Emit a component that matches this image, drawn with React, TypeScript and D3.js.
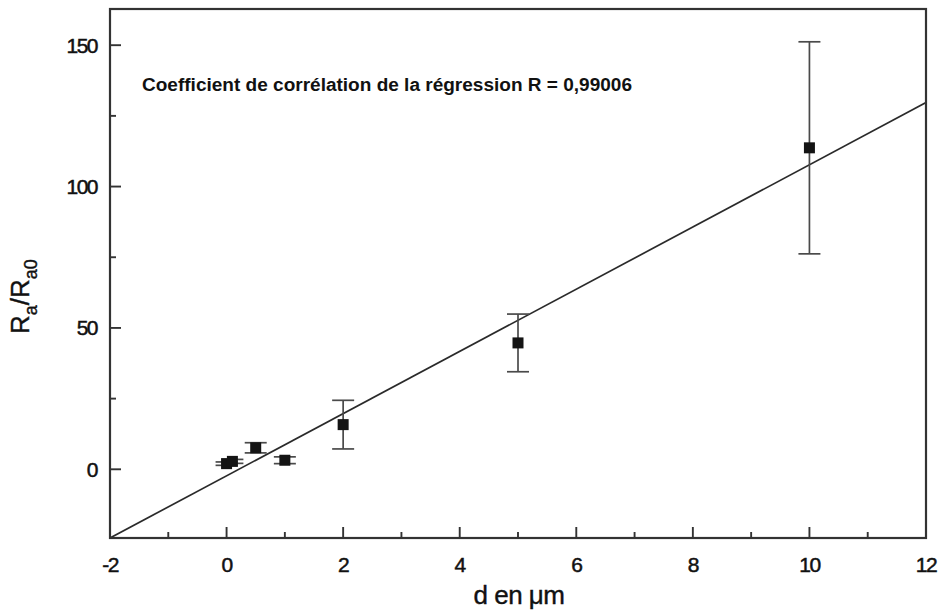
import React from "react";
import * as d3 from "d3";

// ---- data ----
const xValues = [0, 0.1, 0.5, 1, 2, 5, 10];
const yValues = [2.0, 2.8, 7.6, 3.2, 15.8, 44.7, 113.7];
const yErrors = [0.6, 0.7, 1.8, 1.2, 8.6, 10.2, 37.5];
const xTickValues = [-2, 0, 2, 4, 6, 8, 10, 12];
const xMinorTicks = [-1, 1, 3, 5, 7, 9, 11];
const yTickValues = [0, 50, 100, 150];
const yMinorTicks = [25, 75, 125];
const xDomain = [-2, 12];
const yDomain = [-24.3, 162.8];
const regressionSlope = 11.0;
const regressionIntercept = -2.3;
const annotationText = "Coefficient de corrélation de la régression R = 0,99006";

const W = 939;
const H = 613;
const left = 110;
const right = 926;
const top = 9;
const bottom = 538;

const FONT = "'Liberation Sans', Arial, Helvetica, sans-serif";

export default function App() {
  const x = d3.scaleLinear().domain(xDomain).range([left, right]);
  const y = d3.scaleLinear().domain(yDomain).range([bottom, top]);

  const lineGen = d3
    .line<number>()
    .x((d) => x(d))
    .y((d) => y(regressionSlope * d + regressionIntercept));
  const linePath = lineGen(xDomain) || "";

  const points = xValues.map((xv, i) => ({ x: xv, y: yValues[i], e: yErrors[i] }));
  const cap = 11;
  const ms = 11;
  const major = 11;
  const minor = 6;

  return (
    <svg
      width={W}
      height={H}
      style={{ position: "absolute", left: 0, top: 0, background: "#fff" }}
      fontFamily={FONT}
    >
      <rect x={0} y={0} width={W} height={H} fill="#fff" />
      <defs>
        <clipPath id="plotClip">
          <rect x={left} y={top} width={right - left} height={bottom - top} />
        </clipPath>
      </defs>

      {/* regression line */}
      <path d={linePath} fill="none" stroke="#2a2a2a" strokeWidth={1.7} clipPath="url(#plotClip)" />

      {/* error bars */}
      <g stroke="#4a4a4a" strokeWidth={1.7} fill="none">
        {points.map((p, i) => {
          const cx = x(p.x);
          const y1 = y(p.y + p.e);
          const y2 = y(p.y - p.e);
          return (
            <g key={i}>
              <line x1={cx} x2={cx} y1={y1} y2={y2} />
              <line x1={cx - cap} x2={cx + cap} y1={y1} y2={y1} />
              <line x1={cx - cap} x2={cx + cap} y1={y2} y2={y2} />
            </g>
          );
        })}
      </g>

      {/* markers */}
      <g fill="#141414">
        {points.map((p, i) => (
          <rect key={i} x={x(p.x) - ms / 2} y={y(p.y) - ms / 2} width={ms} height={ms} />
        ))}
      </g>

      {/* frame */}
      <rect
        x={left}
        y={top}
        width={right - left}
        height={bottom - top}
        fill="none"
        stroke="#333"
        strokeWidth={2.2}
      />

      {/* ticks */}
      <g stroke="#333" strokeWidth={1.9}>
        {xTickValues.map((t) => (
          <line key={"xM" + t} x1={x(t)} x2={x(t)} y1={bottom} y2={bottom - major} />
        ))}
        {xMinorTicks.map((t) => (
          <line key={"xm" + t} x1={x(t)} x2={x(t)} y1={bottom} y2={bottom - minor} />
        ))}
        {yTickValues.map((t) => (
          <line key={"yM" + t} x1={left} x2={left + major} y1={y(t)} y2={y(t)} />
        ))}
        {yMinorTicks.map((t) => (
          <line key={"ym" + t} x1={left} x2={left + minor} y1={y(t)} y2={y(t)} />
        ))}
      </g>

      {/* x tick labels */}
      <g fontSize={21} fill="#111" stroke="#111" strokeWidth={0.5} textAnchor="middle" letterSpacing={-1.5}>
        {xTickValues.map((t) => (
          <text key={"xl" + t} x={x(t)} y={572}>
            {String(t)}
          </text>
        ))}
      </g>

      {/* y tick labels */}
      <g fontSize={21} fill="#111" stroke="#111" strokeWidth={0.5} textAnchor="end" letterSpacing={-1.5}>
        {yTickValues.map((t) => (
          <text key={"yl" + t} x={97} y={y(t) + 7.5}>
            {String(t)}
          </text>
        ))}
      </g>

      {/* annotation */}
      <text
        x={142}
        y={91}
        fontSize={18}
        fontWeight="bold"
        fill="#111"
        textLength={490}
        lengthAdjust="spacingAndGlyphs"
      >
        {annotationText}
      </text>

      {/* x axis title */}
      <text x={519} y={604} fontSize={26} fill="#111" stroke="#111" strokeWidth={0.4} textAnchor="middle" letterSpacing={-0.5}>
        d en μm
      </text>

      {/* y axis title */}
      <text transform="translate(29,334) rotate(-90)" fontSize={26} fill="#111" stroke="#111" strokeWidth={0.4}>
        <tspan>R</tspan>
        <tspan fontSize={18} dy={8}>a</tspan>
        <tspan dy={-8}>/R</tspan>
        <tspan fontSize={18} dy={8}>a0</tspan>
      </text>
    </svg>
  );
}
